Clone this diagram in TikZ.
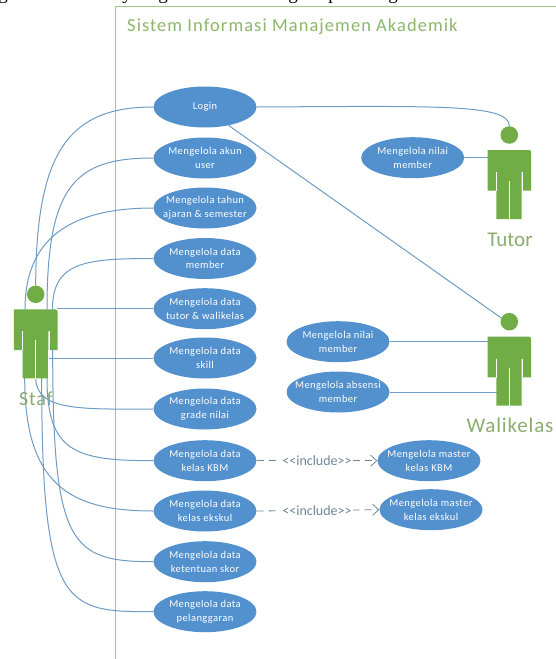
\documentclass[tikz,border=0pt]{standalone}
\usepackage{fontspec}
\setmainfont{Carlito}
\newfontfamily\serifcut{Liberation Serif}
\newfontfamily\ucfont[LetterSpace=4]{Carlito}
\newfontfamily\titlefont[LetterSpace=6]{Carlito}
\usetikzlibrary{arrows.meta,backgrounds,shapes.geometric}
\definecolor{ucblue}{HTML}{5291CE}
\definecolor{actgreen}{HTML}{70AD47}
\definecolor{linkblue}{HTML}{6E9CC4}
\definecolor{framegreen}{HTML}{A4C588}
\definecolor{titlegreen}{HTML}{8DB66C}
\definecolor{inclgrey}{HTML}{6F8797}
\tikzset{
  usecase/.style={ellipse,fill=ucblue,minimum width=103pt,minimum height=41pt,inner xsep=-25pt,inner ysep=-2pt,
    text=white,align=center,font=\ucfont\fontsize{10.5}{13.5}\selectfont},
  link/.style={draw=linkblue,line width=1pt},
  incl/.style={draw=inclgrey,line width=0.8pt,dash pattern=on 7pt off 5pt,-{Straight Barb[length=6pt,width=11pt]}},
  incltext/.style={fill=white,text=inclgrey,inner sep=1pt,font=\fontsize{14}{16}\selectfont},
  acthead/.style={circle,fill=actgreen,minimum size=17.5pt,inner sep=0pt},
  actname/.style={text=titlegreen,inner sep=0pt},
  cut/.style={anchor=base,inner sep=0pt,font=\serifcut\fontsize{19}{20}\selectfont}
}
% #1 name, #2 centre x, #3 body top y
\newcommand{\actorfig}[3]{%
  \node[acthead] (#1head) at (#2,#3-15) {};
  \fill[actgreen,rounded corners=1.5pt,shift={(#2,#3)}]
    (-21.8,0) -- (21.8,0) -- (21.8,12) [sharp corners] -- (21.8,40.7) -- (13,40.7) -- (13,22) -- (12.2,22)
    -- (12.2,69) -- (-13,69) -- (-13,22) -- (-13.5,22) -- (-13.5,40.7) -- (-21.8,40.7) -- cycle;
  \draw[white,line width=0.7pt,shift={(#2,#3)}] (0,31) -- (0,69.5);
  \draw[white,line width=0.7pt,shift={(#2,#3)}] (-13.2,22) -- (-13.2,40.8) (13.2,22) -- (13.2,40.8);
}
\begin{document}
\begin{tikzpicture}[x=1pt,y=-1pt]
\useasboundingbox (0,0) rectangle (555,659);
% line of the text above the diagram: only descenders remain
\foreach \n/\xx/\ch in {c1/3/g,c2/127/y,c3/163/g,c4/293/g,c5/333/p,c6/393/g}
  \node[cut] (\n) at (\xx,-0.8) {\ch};
% use cases
\node[usecase] (login) at (205,107) {Login};
\node[usecase] (akun) at (205,158) {Mengelola akun\\user};
\node[usecase] (tahun) at (205,208) {Mengelola tahun\\ajaran \& semester};
\node[usecase] (mdata) at (205,258.5) {Mengelola data\\member};
\node[usecase] (tutwali) at (205,308.7) {Mengelola data\\tutor \& walikelas};
\node[usecase] (skill) at (205,358) {Mengelola data\\skill};
\node[usecase] (grade) at (205,409) {Mengelola data\\grade nilai};
\node[usecase] (kbm) at (205,460.7) {Mengelola data\\kelas KBM};
\node[usecase] (ekskul) at (205,511) {Mengelola data\\kelas ekskul};
\node[usecase] (skor) at (205,561.7) {Mengelola data\\ketentuan skor};
\node[usecase] (langgar) at (205,611.7) {Mengelola data\\pelanggaran};
\node[usecase] (tnilai) at (412.7,157.7) {Mengelola nilai\\member};
\node[usecase] (wnilai) at (338,341.7) {Mengelola nilai\\member};
\node[usecase] (wabsen) at (338,392) {Mengelola absensi\\member};
\node[usecase] (mkbm) at (429,460.7) {Mengelola master\\kelas KBM};
\node[usecase] (meks) at (431,509.7) {Mengelola master\\kelas ekskul};
% actors
\actorfig{staf}{35.7}{309.3}
\actorfig{tutor}{509.3}{150}
\actorfig{wali}{509.3}{336.7}
% connector ends on the actors
\coordinate (sA) at (47,309.3);
\coordinate (sB) at (25,309.3);
\coordinate (sC) at (52.5,309.3);
\coordinate (sD) at (57,308.7);
\coordinate (sE) at (48.5,358);
\coordinate (sF) at (35.7,378);
\coordinate (sG) at (47,378);
\coordinate (sH) at (24.7,378);
\coordinate (sI) at (52.7,350);
\coordinate (sJ) at (41.7,378);
\coordinate (tA) at (488,157.7);
\coordinate (wA) at (488,341.7);
\coordinate (wB) at (497,392);
\begin{scope}[on background layer]
  \fill[white] (0,0) rectangle (555,659);
  \draw[draw=framegreen,line width=1pt] (115.5,660) -- (115.5,6.5) -- (556,6.5);
  \node[actname,font=\ucfont\fontsize{20}{22}\selectfont,text=titlegreen!80!gray] (staflabel) at (36,399) {Staf};
  \draw[link] (login.west) .. controls (70,107) and (36,150) .. (stafhead.north);
  \draw[link] (akun.west) .. controls (75,158) and (47,185) .. (sA);
  \draw[link] (tahun.west) .. controls (75,208) and (25,235) .. (sB);
  \draw[link] (mdata.west) .. controls (85,258.5) and (52.5,262) .. (sC);
  \draw[link] (tutwali.west) -- (sD);
  \draw[link] (skill.west) -- (sE);
  \draw[link] (grade.west) .. controls (85,409) and (36,412) .. (sF);
  \draw[link] (kbm.west) .. controls (75,460.7) and (47,452) .. (sG);
  \draw[link] (ekskul.west) .. controls (70,511) and (24.7,485) .. (sH);
  \draw[link] (skor.west) .. controls (70,561.7) and (52.7,545) .. (sI);
  \draw[link] (langgar.west) .. controls (65,611.7) and (41.7,610) .. (sJ);
  \draw[link] (login.east) .. controls (440,106) and (509.3,104) .. (tutorhead.north);
  \draw[link] (login.-38) -- (walihead.155);
  \draw[link] (tnilai.east) -- (tA);
  \draw[link] (wnilai.east) -- (wA);
  \draw[link] (wabsen.east) -- (wB);
\end{scope}
\draw[incl] (kbm.east) -- node[incltext,pos=0.5] (il1) {<{}<include>{}>} (mkbm.west);
\draw[incl] (ekskul.east) -- node[incltext,pos=0.5,xshift=-1pt] (il2) {<{}<include>{}>} (meks.west);
% titles
\node[anchor=west,inner sep=0pt,text=titlegreen,font=\titlefont\fontsize{18.4}{20}\selectfont] (title) at (127,27) {Sistem Informasi Manajemen Akademik};
\node[actname,text=titlegreen!85!gray,font=\fontsize{21}{24}\selectfont] (tutorlabel) at (510,240) {Tutor};
\node[actname,text=titlegreen!85!gray,font=\ucfont\fontsize{21}{24}\selectfont] (walilabel) at (510,425) {Walikelas};
\end{tikzpicture}
\end{document}
